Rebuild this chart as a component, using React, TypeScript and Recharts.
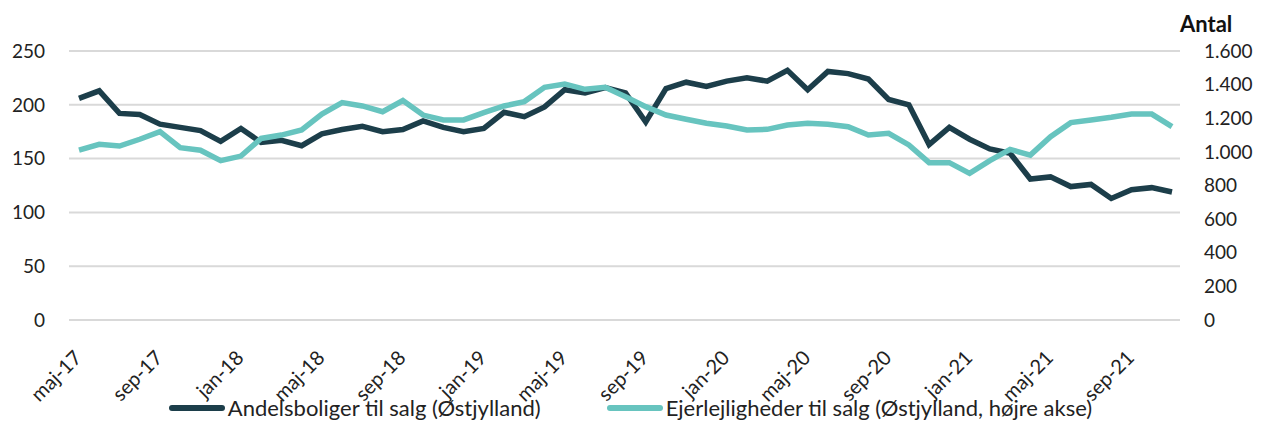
import { CartesianGrid, Legend, Line, LineChart, XAxis, YAxis } from "recharts";

const months = [
  "maj-17", "jun-17", "jul-17", "aug-17", "sep-17", "okt-17", "nov-17", "dec-17",
  "jan-18", "feb-18", "mar-18", "apr-18", "maj-18", "jun-18", "jul-18", "aug-18", "sep-18", "okt-18", "nov-18", "dec-18",
  "jan-19", "feb-19", "mar-19", "apr-19", "maj-19", "jun-19", "jul-19", "aug-19", "sep-19", "okt-19", "nov-19", "dec-19",
  "jan-20", "feb-20", "mar-20", "apr-20", "maj-20", "jun-20", "jul-20", "aug-20", "sep-20", "okt-20", "nov-20", "dec-20",
  "jan-21", "feb-21", "mar-21", "apr-21", "maj-21", "jun-21", "jul-21", "aug-21", "sep-21", "okt-21", "nov-21",
];

// Andelsboliger til salg (venstre akse)
const andel = [
  206, 213, 192, 191, 182, 179, 176, 166,
  178, 165, 167, 162, 173, 177, 180, 175, 177, 185, 179, 175,
  178, 193, 189, 198, 214, 211, 216, 211, 184, 215, 221, 217,
  222, 225, 222, 232, 214, 231, 229, 224, 205, 200, 163, 179,
  168, 159, 155, 131, 133, 124, 126, 113, 121, 123, 119,
];

// Ejerlejligheder til salg (højre akse)
const ejer = [
  1010, 1045, 1035, 1075, 1120, 1025, 1010, 948,
  975, 1080, 1100, 1130, 1225, 1293, 1273, 1239, 1305, 1219, 1190, 1190,
  1233, 1273, 1299, 1384, 1404, 1372, 1384, 1328, 1269, 1219, 1194, 1170,
  1154, 1130, 1134, 1160, 1170, 1164, 1150, 1100, 1110, 1041, 936, 936,
  872, 948, 1015, 981, 1090, 1174, 1190, 1206, 1225, 1225, 1150,
];

const leftTicks = [0, 50, 100, 150, 200, 250];
const rightTicks = [0, 200, 400, 600, 800, 1000, 1200, 1400, 1600];

const data = months.map((m, i) => ({ month: m, andel: andel[i], ejer: ejer[i] }));

const DARK = "#1c3e4a";
const TEAL = "#67c4bf";
const FONT = "Lato, 'Open Sans', sans-serif";

const fmt = (v: number) => v.toLocaleString("de-DE");

function MonthTick({ x, y, payload }: any) {
  const ax = x + 4;
  const ay = y + 31;
  return (
    <text
      x={ax}
      y={ay}
      transform={`rotate(-45, ${ax}, ${ay})`}
      textAnchor="end"
      fontSize={20}
      fill="#222"
      fontFamily={FONT}
    >
      {payload.value}
    </text>
  );
}

function LegendBox({ payload }: any) {
  return (
    <div
      style={{
        paddingTop: 15,
        display: "flex",
        justifyContent: "center",
        gap: 66,
        fontFamily: FONT,
        fontSize: 22,
        lineHeight: "26px",
        color: "#222",
        whiteSpace: "nowrap",
      }}
    >
      {(payload || []).map((p: any) => (
        <div key={p.value} style={{ display: "flex", alignItems: "center" }}>
          <span style={{ display: "inline-block", width: 56, height: 6, borderRadius: 3, background: p.color, marginRight: 3 }} />
          <span>{p.value}</span>
        </div>
      ))}
    </div>
  );
}

export default function App() {
  return (
    <div style={{ position: "relative", width: 1245, height: 413, fontFamily: FONT }}>
      <div style={{ position: "absolute", left: 1172, top: 2, fontSize: 22, fontWeight: 700, color: "#111" }}>Antal</div>
      <LineChart width={1245} height={413} data={data} margin={{ top: 43, right: 0, bottom: 0, left: 0 }}>
        <CartesianGrid yAxisId="left" vertical={false} stroke="#d9d9d9" strokeWidth={2} />
        <XAxis
          dataKey="month"
          interval={3}
          tick={<MonthTick />}
          tickLine={false}
          axisLine={false}
          height={60}
          padding={{ left: 10, right: 8 }}
        />
        <YAxis
          yAxisId="left"
          domain={[0, 250]}
          ticks={leftTicks}
          width={61}
          tickLine={false}
          axisLine={false}
          tickMargin={18}
          tick={{ fontSize: 19, fill: "#222", fontFamily: FONT }}
        />
        <YAxis
          yAxisId="right"
          orientation="right"
          domain={[0, 1600]}
          ticks={rightTicks}
          width={73}
          tickLine={false}
          axisLine={false}
          tickMargin={18}
          tickFormatter={fmt}
          tick={{ fontSize: 19, fill: "#222", fontFamily: FONT, textAnchor: "start" }}
        />
        <Legend verticalAlign="bottom" height={41} content={<LegendBox />} />
        <Line
          yAxisId="left"
          type="linear"
          dataKey="andel"
          name="Andelsboliger til salg (Østjylland)"
          stroke={DARK}
          strokeWidth={5.5}
          dot={false}
          isAnimationActive={false}
        />
        <Line
          yAxisId="right"
          type="linear"
          dataKey="ejer"
          name="Ejerlejligheder til salg (Østjylland, højre akse)"
          stroke={TEAL}
          strokeWidth={5.5}
          dot={false}
          isAnimationActive={false}
        />
      </LineChart>
    </div>
  );
}
